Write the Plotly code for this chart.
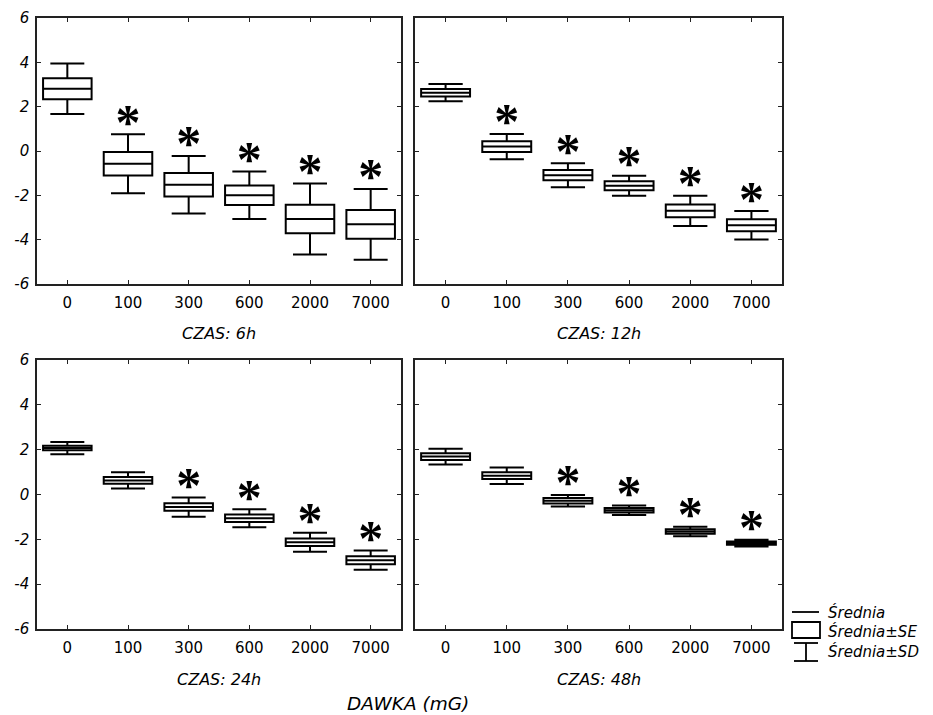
import plotly.graph_objects as go

# ---------------- data ----------------
doses = ["0", "100", "300", "600", "2000", "7000"]
panel_titles = ["CZAS: 6h", "CZAS: 12h", "CZAS: 24h", "CZAS: 48h"]
y_ticks = [-6, -4, -2, 0, 2, 4, 6]
y_tick_labels = ["-6", "-4", "-2", "0", "2", "4", "6"]

mean_6h = [2.81, -0.58, -1.52, -2.00, -3.07, -3.31]
se_6h = [0.47, 0.53, 0.53, 0.44, 0.64, 0.65]
sd_6h = [1.14, 1.33, 1.30, 1.07, 1.60, 1.60]
sig_6h = [0, 1, 1, 1, 1, 1]

mean_12h = [2.63, 0.20, -1.09, -1.57, -2.70, -3.35]
se_12h = [0.17, 0.24, 0.23, 0.20, 0.29, 0.27]
sd_12h = [0.39, 0.57, 0.54, 0.45, 0.68, 0.64]
sig_12h = [0, 1, 1, 1, 1, 1]

mean_24h = [2.07, 0.63, -0.56, -1.06, -2.13, -2.93]
se_24h = [0.10, 0.15, 0.17, 0.17, 0.17, 0.18]
sd_24h = [0.27, 0.36, 0.43, 0.40, 0.42, 0.43]
sig_24h = [0, 0, 1, 1, 1, 1]

mean_48h = [1.69, 0.84, -0.28, -0.70, -1.65, -2.17]
se_48h = [0.15, 0.15, 0.12, 0.10, 0.10, 0.07]
sd_48h = [0.35, 0.37, 0.26, 0.21, 0.21, 0.15]
sig_48h = [0, 0, 1, 1, 1, 1]

legend_labels = ["Średnia", "Średnia±SE", "Średnia±SD"]
x_title = "DAWKA (mG)"

# ---------------- figure ----------------
# page body has an 8px margin: figure coordinates are screen coordinates - 8
W, H = 925, 707
FONT = "DejaVu Sans, Liberation Sans, Arial, sans-serif"
STAR_FONT = "Liberation Serif, Times New Roman, serif"
series = [
    (mean_6h, se_6h, sd_6h, sig_6h),
    (mean_12h, se_12h, sd_12h, sig_12h),
    (mean_24h, se_24h, sd_24h, sig_24h),
    (mean_48h, se_48h, sd_48h, sig_48h),
]

# panel pixel boxes in figure coordinates (left, right, top, bottom)
px_boxes = [(29, 393, 10, 276), (407, 774, 10, 276), (29, 393, 352, 621), (407, 774, 352, 621)]

fig = go.Figure()
STAR_OFFSET = 0.36

for i, (m, se, sd, sig) in enumerate(series):
    sfx = "" if i == 0 else str(i + 1)
    fig.add_trace(go.Box(
        x=doses,
        q1=[a - b for a, b in zip(m, se)],
        median=m,
        q3=[a + b for a, b in zip(m, se)],
        lowerfence=[a - b for a, b in zip(m, sd)],
        upperfence=[a + b for a, b in zip(m, sd)],
        width=0.8,
        whiskerwidth=0.7,
        fillcolor="white",
        line=dict(color="black", width=2),
        boxpoints=False,
        hoverinfo="skip",
        showlegend=False,
        xaxis="x" + sfx, yaxis="y" + sfx,
    ))
    sx = [d for d, s in zip(doses, sig) if s]
    sy = [a + b + STAR_OFFSET for a, b, s in zip(m, sd, sig) if s]
    fig.add_trace(go.Scatter(
        x=sx, y=sy, mode="text", text=["*"] * len(sx),
        textposition="middle center",
        textfont=dict(family=STAR_FONT, size=50, color="black", weight="bold"),
        hoverinfo="skip", showlegend=False,
        xaxis="x" + sfx, yaxis="y" + sfx,
    ))

layout = dict(
    width=W, height=H,
    margin=dict(l=0, r=0, t=0, b=0, autoexpand=False),
    paper_bgcolor="white", plot_bgcolor="white",
    font=dict(family=FONT, color="black"),
    showlegend=False,
)

annotations = []
for i, (l, r, t, b) in enumerate(px_boxes):
    sfx = "" if i == 0 else str(i + 1)
    xa = dict(
        domain=[l / W, r / W], anchor="y" + sfx, type="category",
        categoryorder="array", categoryarray=doses, automargin=False,
        range=[-0.5, 5.5], showgrid=False, zeroline=False,
        showline=True, linecolor="#222", linewidth=1.5, mirror="ticks",
        ticks="inside", ticklen=4, tickwidth=1, tickcolor="#222",
        tickfont=dict(family=FONT, size=15, color="black"),
        ticklabelstandoff=4, ticklabeloverflow="allow",
    )
    ya = dict(
        domain=[1 - b / H, 1 - t / H], anchor="x" + sfx, automargin=False,
        range=[-6, 6], tickvals=y_ticks, ticktext=y_tick_labels,
        showgrid=False, zeroline=False,
        showline=True, linecolor="#222", linewidth=1.5, mirror="ticks",
        ticks="inside", ticklen=4, tickwidth=1, tickcolor="#222",
        tickfont=dict(family=FONT, size=15, color="black", style="italic"),
        showticklabels=(i % 2 == 0),
        ticklabelstandoff=3, ticklabeloverflow="allow",
    )
    layout["xaxis" + sfx] = xa
    layout["yaxis" + sfx] = ya
    annotations.append(dict(
        text=panel_titles[i], xref="paper", yref="paper",
        x=(l + r) / 2 / W, y=1 - (b + 50) / H, xanchor="center", yanchor="middle",
        showarrow=False, font=dict(family=FONT, size=16, style="italic"),
    ))

annotations.append(dict(
    text=x_title, xref="paper", yref="paper",
    x=400 / W, y=1 - 695 / H, xanchor="center", yanchor="middle",
    showarrow=False, font=dict(family=FONT, size=18.5, style="italic"),
))

# legend (drawn manually)
leg_y = [604, 623, 643]
for lab, yy in zip(legend_labels, leg_y):
    annotations.append(dict(
        text=lab, xref="paper", yref="paper",
        x=818 / W, y=1 - yy / H, xanchor="left", yanchor="middle",
        showarrow=False, font=dict(family=FONT, size=15, style="italic"),
    ))

def P(x, y):
    return x / W, 1 - y / H

shapes = []
def line(x0, y0, x1, y1, w=1.8):
    a, b = P(x0, y0)
    c, d = P(x1, y1)
    shapes.append(dict(type="line", xref="paper", yref="paper", x0=a, y0=b, x1=c, y1=d,
                       line=dict(color="black", width=w)))

line(784, 604, 811, 604)
a, b = P(784, 614)
c, d = P(812, 630)
shapes.append(dict(type="rect", xref="paper", yref="paper", x0=a, y0=b, x1=c, y1=d,
                   line=dict(color="black", width=1.8), fillcolor="white"))
line(786, 635, 810, 635)
line(798, 635, 798, 653)
line(786, 653, 810, 653)

layout["annotations"] = annotations
layout["shapes"] = shapes
fig.update_layout(**layout)

fig.write_html("out.html")
